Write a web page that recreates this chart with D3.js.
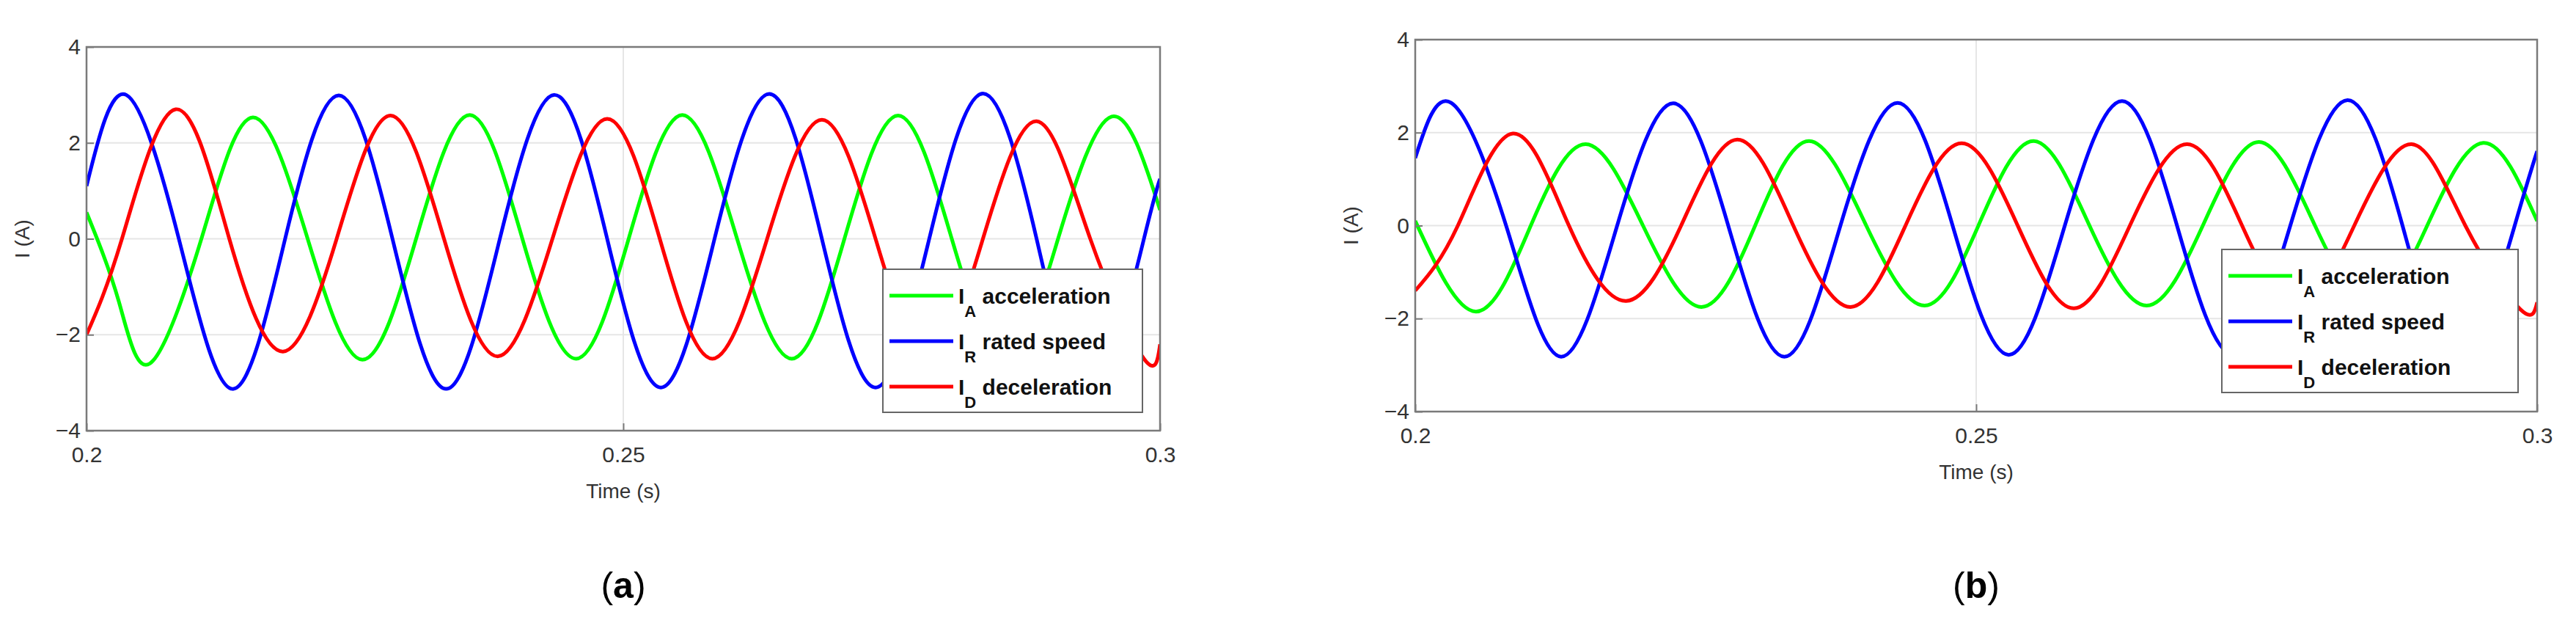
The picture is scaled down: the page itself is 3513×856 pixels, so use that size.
<!DOCTYPE html>
<html>
<head>
<meta charset="utf-8">
<script src="https://cdn.jsdelivr.net/npm/d3@7"></script>
<style>
    body { margin: 0; background: #fff; }
    text { font-family: "Liberation Sans", Arial, sans-serif; }
</style>
</head>
<body>
<svg id="chart" width="3513" height="856"></svg>
<script>
// time ticks and current ticks
var timeTicks = [0.2, 0.25, 0.3];
var currentTicks = [-4, -2, 0, 2, 4];
var seriesNames = ['acceleration', 'rated speed', 'deceleration'];
var seriesSubs = ['A', 'R', 'D'];

// panel (a): extrema / zero crossings, [time, current]
var accA = [[0.2, 0.55], [0.2030, -1.3], [0.2059, -2.6], [0.2107, 0], [0.2155, 2.53], [0.2206, 0], [0.2257, -2.52], [0.2307, 0], [0.2357, 2.58],
    [0.2406, 0], [0.2456, -2.5], [0.2505, 0], [0.2555, 2.58], [0.2606, 0], [0.2657, -2.5], [0.2706, 0], [0.2756, 2.57], [0.2806, 0],
    [0.2856, -2.5], [0.2905, 0], [0.2955, 2.55], [0.3, 0.6]];
var ratedA = [[0.2, 1.1], [0.2037, 3.0], [0.2086, 0], [0.2136, -3.13], [0.2185, 0], [0.2235, 2.99], [0.2285, 0], [0.2335, -3.13], [0.2385, 0],
    [0.2436, 3.0], [0.2485, 0], [0.2535, -3.1], [0.2585, 0], [0.2636, 3.02], [0.2685, 0], [0.2735, -3.1], [0.2785, 0], [0.2835, 3.03],
    [0.2885, 0], [0.2935, -3.1], [0.2985, 0], [0.3, 1.25]];
var decA = [[0.2, -2.0], [0.2033, 0], [0.2083, 2.7], [0.2133, 0], [0.2183, -2.35], [0.2233, 0], [0.2283, 2.57], [0.2333, 0], [0.2383, -2.45],
    [0.2434, 0], [0.2485, 2.5], [0.2534, 0], [0.2583, -2.5], [0.2634, 0], [0.2685, 2.48], [0.2735, 0], [0.2785, -2.5], [0.2835, 0],
    [0.2885, 2.45], [0.2935, 0], [0.2985, -2.5], [0.3, -2.2]];

// panel (b)
var accB = [[0.2, 0.1], [0.2054, -1.85], [0.2103, 0], [0.2152, 1.75], [0.2203, 0], [0.2255, -1.75], [0.2303, 0], [0.2351, 1.82], [0.2402, 0],
    [0.2454, -1.72], [0.2502, 0], [0.2551, 1.82], [0.2601, 0], [0.2652, -1.72], [0.2702, 0], [0.2752, 1.8], [0.2802, 0], [0.2853, -1.7],
    [0.2902, 0], [0.2952, 1.78], [0.3, 0.1]];
var ratedB = [[0.2, 1.45], [0.2032, 2.64], [0.2081, 0], [0.2130, -2.82], [0.2180, 0], [0.2230, 2.63], [0.2279, 0], [0.2329, -2.82], [0.2379, 0],
    [0.2430, 2.64], [0.2479, 0], [0.2529, -2.78], [0.2579, 0], [0.2630, 2.68], [0.2679, 0], [0.2729, -2.78], [0.2780, 0], [0.2831, 2.7],
    [0.2880, 0], [0.2930, -2.8], [0.2980, 0], [0.3, 1.6]];
var decB = [[0.2, -1.4], [0.2038, 0], [0.2087, 1.98], [0.2137, 0], [0.2188, -1.62], [0.2237, 0], [0.2287, 1.85], [0.2337, 0], [0.2388, -1.75],
    [0.2437, 0], [0.2487, 1.77], [0.2537, 0], [0.2587, -1.78], [0.2637, 0], [0.2688, 1.75], [0.2737, 0], [0.2787, -1.75], [0.2837, 0],
    [0.2888, 1.75], [0.2936, 0], [0.2985, -1.8], [0.3, -1.65]];

var colors = ['#00ff00', '#0000ff', '#ff0000'];

var svg = d3.select('#chart');

function drawPanel(cfg) {
    var x = d3.scaleLinear().domain([0.2, 0.3]).range([cfg.left, cfg.right]);
    var y = d3.scaleLinear().domain([-4, 4]).range([cfg.bottom, cfg.top]);
    var g = svg.append('g');
    var clipId = 'clip' + cfg.name;
    g.append('clipPath').attr('id', clipId).append('rect')
        .attr('x', cfg.left).attr('y', cfg.top).attr('width', cfg.right - cfg.left).attr('height', cfg.bottom - cfg.top);

    // grid
    g.selectAll('.gy').data(currentTicks).enter().append('line')
        .attr('x1', cfg.left).attr('x2', cfg.right)
        .attr('y1', function (d) { return y(d); }).attr('y2', function (d) { return y(d); })
        .attr('stroke', '#e6e6e6').attr('stroke-width', 2);
    g.selectAll('.gx').data(timeTicks).enter().append('line')
        .attr('y1', cfg.top).attr('y2', cfg.bottom)
        .attr('x1', function (d) { return x(d); }).attr('x2', function (d) { return x(d); })
        .attr('stroke', '#e6e6e6').attr('stroke-width', 2);

    // curves
    var line = d3.line().curve(d3.curveNatural)
        .x(function (d) { return x(d[0]); })
        .y(function (d) { return y(d[1]); });
    cfg.series.forEach(function (s, i) {
        g.append('path').attr('d', line(s)).attr('fill', 'none')
            .attr('stroke', colors[i]).attr('stroke-width', 5)
            .attr('clip-path', 'url(#' + clipId + ')');
    });

    // frame
    g.append('rect').attr('x', cfg.left).attr('y', cfg.top)
        .attr('width', cfg.right - cfg.left).attr('height', cfg.bottom - cfg.top)
        .attr('fill', 'none').attr('stroke', '#7a7a7a').attr('stroke-width', 2.5);

    // axes
    var ax = g.append('g').attr('transform', 'translate(0,' + cfg.bottom + ')')
        .call(d3.axisBottom(x).tickValues(timeTicks).tickSize(-10).tickPadding(22).tickFormat(function (d) { return d3.format('')(d); }));
    var ay = g.append('g').attr('transform', 'translate(' + cfg.left + ',0)')
        .call(d3.axisLeft(y).tickValues(currentTicks).tickSize(-10).tickPadding(8).tickFormat(function (d) { return d < 0 ? '\u2212' + (-d) : d; }));
    [ax, ay].forEach(function (a) {
        a.select('.domain').remove();
        a.selectAll('line').attr('stroke', '#7a7a7a').attr('stroke-width', 2);
        a.selectAll('text').attr('font-size', 30).attr('fill', '#333')
            .attr('font-family', '"Liberation Sans Narrow", "Liberation Sans", sans-serif');
    });
    ax.selectAll('text').attr('dy', '0.71em');

    g.append('text').attr('x', (cfg.left + cfg.right) / 2).attr('y', cfg.bottom + 92)
        .attr('text-anchor', 'middle').attr('font-size', 28).attr('fill', '#333')
        .attr('font-family', '"Liberation Sans Narrow", "Liberation Sans", sans-serif')
        .text('Time (s)');
    g.append('text').attr('transform', 'translate(' + cfg.ylabX + ',' + ((cfg.top + cfg.bottom) / 2) + ') rotate(-90)')
        .attr('text-anchor', 'middle').attr('font-size', 28).attr('fill', '#333')
        .attr('font-family', '"Liberation Sans Narrow", "Liberation Sans", sans-serif')
        .text('I (A)');

    // legend
    var lg = g.append('g');
    lg.append('rect').attr('x', cfg.legX).attr('y', cfg.legY).attr('width', cfg.legW).attr('height', 195)
        .attr('fill', '#fff').attr('stroke', '#666').attr('stroke-width', 2);
    seriesNames.forEach(function (n, i) {
        var cy = cfg.legY + 36 + i * 62;
        lg.append('line').attr('x1', cfg.legX + 9).attr('x2', cfg.legX + 96)
            .attr('y1', cy).attr('y2', cy).attr('stroke', colors[i]).attr('stroke-width', 5);
        var t = lg.append('text').attr('x', cfg.legX + 103).attr('y', cy + 11)
            .attr('font-size', 30).attr('font-weight', 'bold').attr('fill', '#111');
        t.append('tspan').text('I');
        t.append('tspan').attr('font-size', 22).attr('dy', 18).text(seriesSubs[i]);
        t.append('tspan').attr('dy', -18).text(' ' + n);
    });

    svg.append('text').attr('x', (cfg.left + cfg.right) / 2).attr('y', 815)
        .attr('text-anchor', 'middle').attr('font-size', 50)
        .attr('font-family', '"Liberation Serif", serif')
        .html('(<tspan font-weight="bold">' + cfg.name + '</tspan>)');
}

drawPanel({name: 'a', left: 118, right: 1582, top: 64, bottom: 587, ylabX: 40,
    legX: 1204, legY: 367, legW: 354, series: [accA, ratedA, decA]});
drawPanel({name: 'b', left: 1930, right: 3460, top: 54, bottom: 561, ylabX: 1852,
    legX: 3030, legY: 340, legW: 404, series: [accB, ratedB, decB]});
</script>
</body>
</html>
